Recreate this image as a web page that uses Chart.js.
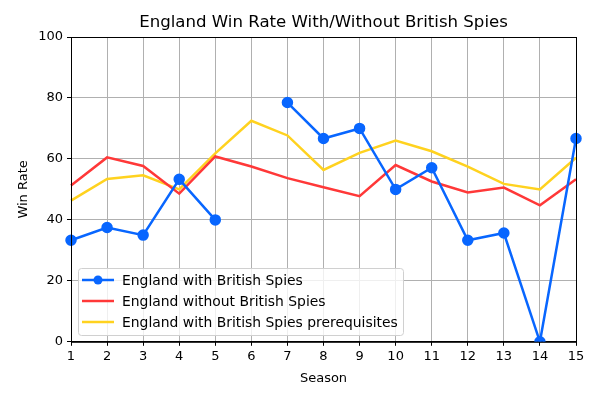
<!DOCTYPE html>
<html>
<head>
<meta charset="utf-8">
<script src="https://cdn.jsdelivr.net/npm/chart.js@4.4.0/dist/chart.umd.min.js"></script>
<style>
  body { margin: 0; background: #fff; }
  #wrap { width: 600px; height: 400px; }
</style>
</head>
<body>
<div id="wrap"><canvas id="winChart" width="600" height="400"></canvas></div>
<script>
// seasons along the bottom
var seasons = ['1','2','3','4','5','6','7','8','9','10','11','12','13','14','15'];

// win rates (null = no data that season)
var withSpies = [33.3, 37.5, 35, 53.3, 40, null, 78.5, 66.7, 70, 50, 57.1, 33.3, 35.7, 0, 66.7];
var withoutSpies = [51.3, 60.5, 57.7, 48.6, 60.8, 57.5, 53.7, 50.7, 47.8, 58, 52.6, 49, 50.6, 44.8, 53.3];
var prereqs = [46.3, 53.4, 54.6, 50, 61.8, 72.5, 67.7, 56.4, 62, 66, 62.5, 57.5, 51.8, 50, 60.4];

var yTicks = [0, 20, 40, 60, 80, 100];
var chartTitle = 'England Win Rate With/Without British Spies';

var blue = '#0866ff';
var red = '#ff3838';
var yellow = '#ffd21f';

// matplotlib style frame, title over the plot, legend in lower left
var framePlugin = {
    id: 'frame',
    afterDraw: function(chart) {
        var ctx = chart.ctx;
        var a = chart.chartArea;
        ctx.save();
        ctx.strokeStyle = '#000';
        ctx.lineWidth = 1;
        ctx.strokeRect(a.left + 0.5, a.top + 0.5, a.right - a.left, a.bottom - a.top);

        ctx.fillStyle = '#000';
        ctx.font = '16.6px "DejaVu Sans"';
        ctx.textAlign = 'center';
        ctx.textBaseline = 'middle';
        ctx.fillText(chartTitle, (a.left + a.right) / 2, 23);

        // legend box
        var bx = 78, by = 268, bw = 325, bh = 67;
        ctx.fillStyle = 'rgba(255,255,255,0.8)';
        ctx.strokeStyle = '#d0d0d0';
        ctx.beginPath();
        ctx.roundRect(bx + 0.5, by + 0.5, bw, bh, 3);
        ctx.fill();
        ctx.stroke();

        var sets = chart.data.datasets;
        ctx.font = '13.9px "DejaVu Sans"';
        ctx.textAlign = 'left';
        for (var i = 0; i < sets.length; i++) {
            var ly = by + 12 + i * 21;
            ctx.strokeStyle = sets[i].borderColor;
            ctx.lineWidth = 2.5;
            ctx.beginPath();
            ctx.moveTo(bx + 4, ly);
            ctx.lineTo(bx + 36, ly);
            ctx.stroke();
            if (sets[i].pointRadius > 0) {
                ctx.fillStyle = sets[i].borderColor;
                ctx.beginPath();
                ctx.arc(bx + 20, ly, 4.5, 0, Math.PI * 2);
                ctx.fill();
            }
            ctx.fillStyle = '#000';
            ctx.fillText(sets[i].label, bx + 44, ly + 1);
        }
        ctx.restore();
    }
};

var ctx = document.getElementById('winChart').getContext('2d');
var winChart = new Chart(ctx, {
    type: 'line',
    data: {
        labels: seasons,
        datasets: [
            {
                label: 'England with British Spies',
                data: withSpies,
                borderColor: blue,
                backgroundColor: blue,
                borderWidth: 2.5,
                pointRadius: 4.5,
                pointHoverRadius: 4.5,
                spanGaps: false,
                tension: 0
            },
            {
                label: 'England without British Spies',
                data: withoutSpies,
                borderColor: red,
                backgroundColor: red,
                borderWidth: 2.5,
                pointRadius: 0,
                tension: 0
            },
            {
                label: 'England with British Spies prerequisites',
                data: prereqs,
                borderColor: yellow,
                backgroundColor: yellow,
                borderWidth: 2.5,
                pointRadius: 0,
                tension: 0
            }
        ]
    },
    options: {
        responsive: false,
        animation: false,
        layout: { padding: { left: 12, right: 24, top: 37, bottom: 10 } },
        plugins: {
            legend: { display: false },
            tooltip: { enabled: false },
            title: { display: false }
        },
        scales: {
            x: {
                offset: false,
                grid: { color: '#b0b0b0', tickColor: '#000', tickLength: 4 },
                border: { color: '#000' },
                ticks: { color: '#000', font: { family: 'DejaVu Sans', size: 13 }, maxRotation: 0, padding: 3 },
                title: { display: true, text: 'Season', color: '#000', font: { family: 'DejaVu Sans', size: 13 }, padding: { top: 3 } }
            },
            y: {
                min: 0,
                max: 100,
                afterBuildTicks: function(axis) {
                    axis.ticks = yTicks.map(function(v) { return { value: v }; });
                },
                afterFit: function(axis) { axis.width = 59; },
                grid: { color: '#b0b0b0', tickColor: '#000', tickLength: 4 },
                border: { color: '#000' },
                ticks: { color: '#000', font: { family: 'DejaVu Sans', size: 13 }, padding: 4 },
                title: { display: true, text: 'Win Rate', color: '#000', font: { family: 'DejaVu Sans', size: 13 }, padding: { bottom: 5 } }
            }
        }
    },
    plugins: [framePlugin]
});
</script>
</body>
</html>
